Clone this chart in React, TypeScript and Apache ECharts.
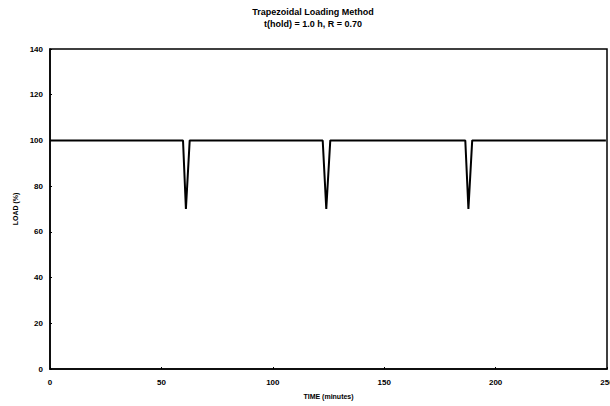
import React, { useEffect, useRef } from "react";
import * as echarts from "echarts";

const titleText = "Trapezoidal Loading Method";
const subtitleText = "t(hold) = 1.0 h, R = 0.70";
const xName = "TIME (minutes)";
const yName = "LOAD (%)";

// time (minutes), load (%)
const timeValues = [0, 59.7, 61.0, 61.3, 62.7, 122.4, 124.0, 124.3, 125.8, 186.4, 187.8, 188.1, 189.5, 249.5];
const loadValues = [100, 100, 70, 70, 100, 100, 70, 70, 100, 100, 70, 70, 100, 100];

export default function App() {
  const ref = useRef<HTMLDivElement>(null);
  useEffect(() => {
    if (!ref.current) return;
    const chart = echarts.init(ref.current, null, { renderer: "svg" });
    const font = "Liberation Sans";
    chart.setOption({
      animation: false,
      backgroundColor: "#ffffff",
      title: {
        text: titleText,
        subtext: subtitleText,
        left: 308,
        textAlign: "center",
        top: 2,
        itemGap: 3,
        textStyle: { fontFamily: font, fontSize: 9, fontWeight: "bold", color: "#000" },
        subtextStyle: { fontFamily: font, fontSize: 9, fontWeight: "bold", color: "#000" },
      },
      grid: {
        left: 50, right: 3, top: 49, bottom: 37,
        outerBoundsMode: "none",
        containLabel: false,
        show: true, borderColor: "#000", borderWidth: 1.5,
      },
      xAxis: {
        type: "value",
        min: 0,
        max: 250,
        interval: 50,
        name: xName,
        nameLocation: "middle",
        nameGap: 24,
        nameTextStyle: { fontFamily: font, fontSize: 7, fontWeight: "bold", color: "#000" },
        axisLine: { show: true, lineStyle: { color: "#000", width: 1.5 } },
        axisTick: { show: true, inside: true, length: 2, lineStyle: { color: "#000" } },
        axisLabel: { fontFamily: font, fontSize: 8, fontWeight: "bold", color: "#000", margin: 9 },
        splitLine: { show: false },
      },
      yAxis: {
        type: "value",
        min: 0,
        max: 140,
        interval: 20,
        name: yName,
        nameLocation: "middle",
        nameGap: 29,
        nameTextStyle: { fontFamily: font, fontSize: 7, fontWeight: "bold", color: "#000" },
        axisLine: { show: true, lineStyle: { color: "#000", width: 1.5 } },
        axisTick: { show: true, inside: true, length: 2, lineStyle: { color: "#000" } },
        axisLabel: { fontFamily: font, fontSize: 8, fontWeight: "bold", color: "#000", margin: 7 },
        splitLine: { show: false },
      },
      series: [
        {
          type: "line",
          data: timeValues.map((t, i) => [t, loadValues[i]]),
          showSymbol: false,
          lineStyle: { color: "#000", width: 2 },
        },
      ],
    });
    return () => chart.dispose();
  }, []);
  return <div ref={ref} style={{ width: 610, height: 406, position: "absolute", left: 0, top: 0 }} />;
}
